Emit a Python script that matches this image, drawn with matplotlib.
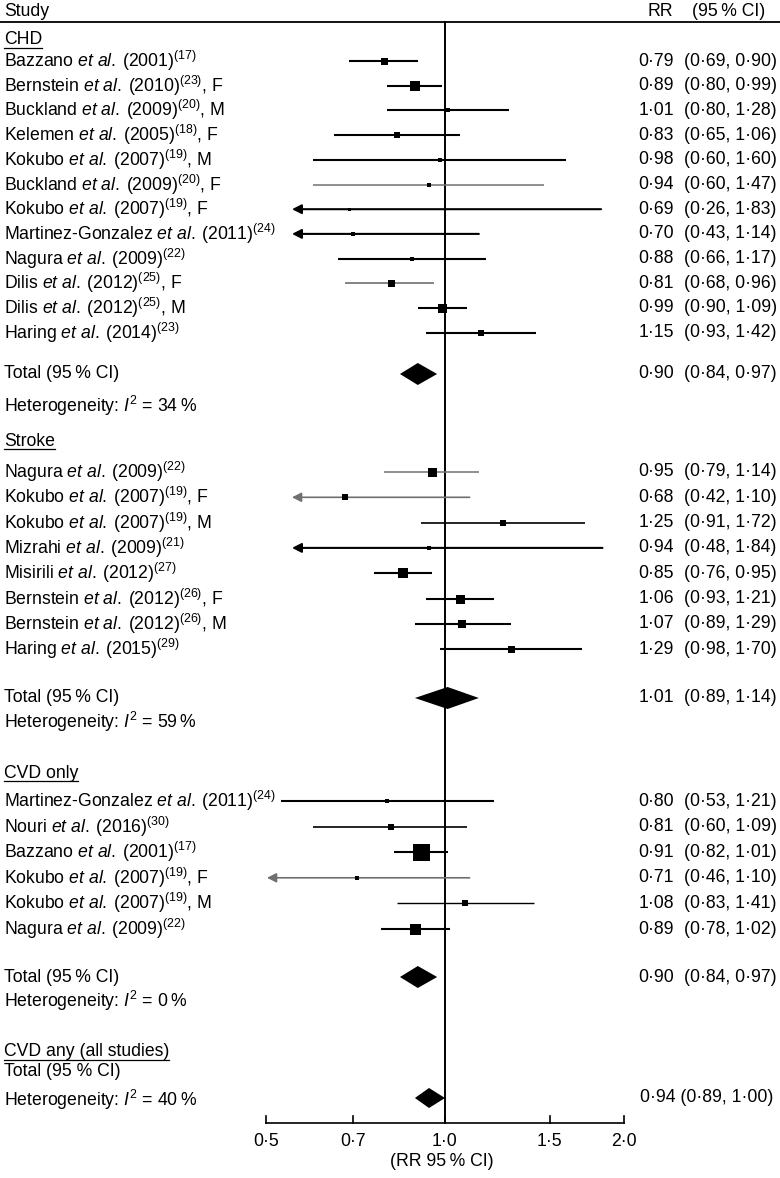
import numpy as np
import matplotlib
matplotlib.use("Agg")
import matplotlib.pyplot as plt
from matplotlib.transforms import blended_transform_factory

plt.rcParams['font.family'] = ['Liberation Sans', 'DejaVu Sans']
plt.rcParams['mathtext.fontset'] = 'custom'
plt.rcParams['mathtext.rm'] = 'Liberation Sans'
plt.rcParams['mathtext.it'] = 'Liberation Sans:italic'
plt.rcParams['mathtext.bf'] = 'Liberation Sans:bold'

# ---------------- data ----------------
chd_authors = ["Bazzano", "Bernstein", "Buckland", "Kelemen", "Kokubo", "Buckland",
               "Kokubo", "Martinez-Gonzalez", "Nagura", "Dilis", "Dilis", "Haring"]
chd_years = ["2001", "2010", "2009", "2005", "2007", "2009", "2007", "2011", "2009", "2012", "2012", "2014"]
chd_refs = ["17", "23", "20", "18", "19", "20", "19", "24", "22", "25", "25", "23"]
chd_sex = ["", "F", "M", "F", "M", "F", "F", "", "", "F", "M", ""]
chd_rr = [0.79, 0.89, 1.01, 0.83, 0.98, 0.94, 0.69, 0.70, 0.88, 0.81, 0.99, 1.15]
chd_lo = [0.69, 0.80, 0.80, 0.65, 0.60, 0.60, 0.26, 0.43, 0.66, 0.68, 0.90, 0.93]
chd_hi = [0.90, 0.99, 1.28, 1.06, 1.60, 1.47, 1.83, 1.14, 1.17, 0.96, 1.09, 1.42]
chd_w = [7, 10, 5, 6, 4, 5, 3, 4, 5, 7, 9, 6]
chd_total = (0.90, 0.84, 0.97)
chd_i2 = 34

stroke_authors = ["Nagura", "Kokubo", "Kokubo", "Mizrahi", "Misirili", "Bernstein", "Bernstein", "Haring"]
stroke_years = ["2009", "2007", "2007", "2009", "2012", "2012", "2012", "2015"]
stroke_refs = ["22", "19", "19", "21", "27", "26", "26", "29"]
stroke_sex = ["", "F", "M", "", "", "F", "M", ""]
stroke_rr = [0.95, 0.68, 1.25, 0.94, 0.85, 1.06, 1.07, 1.29]
stroke_lo = [0.79, 0.42, 0.91, 0.48, 0.76, 0.93, 0.89, 0.98]
stroke_hi = [1.14, 1.10, 1.72, 1.84, 0.95, 1.21, 1.29, 1.70]
stroke_w = [9, 6, 6, 4, 10, 9, 8, 7]
stroke_total = (1.01, 0.89, 1.14)
stroke_i2 = 59

cvd_authors = ["Martinez-Gonzalez", "Nouri", "Bazzano", "Kokubo", "Kokubo", "Nagura"]
cvd_years = ["2011", "2016", "2001", "2007", "2007", "2009"]
cvd_refs = ["24", "30", "17", "19", "19", "22"]
cvd_sex = ["", "", "", "F", "M", ""]
cvd_rr = [0.80, 0.81, 0.91, 0.71, 1.08, 0.89]
cvd_lo = [0.53, 0.60, 0.82, 0.46, 0.83, 0.78]
cvd_hi = [1.21, 1.09, 1.01, 1.10, 1.41, 1.02]
cvd_w = [5, 6, 17, 4, 6, 11]
cvd_total = (0.90, 0.84, 0.97)
cvd_i2 = 0

any_total = (0.94, 0.89, 1.00)
any_i2 = 40

tick_values = [0.5, 0.7, 1.0, 1.5, 2.0]

# ---------------- layout / style ----------------
W, H = 780, 1178
FS = 12.7
fig = plt.figure(figsize=(W / 100, H / 100), dpi=100)
ax = fig.add_axes([0, 0, 1, 1])
ax.set_xscale('log')
ppl = 179 / np.log(2.0)          # pixels per ln unit
x_ref = 445                       # pixel of RR = 1
ax.set_xlim(np.exp(-x_ref / ppl), np.exp((W - x_ref) / ppl))
ax.set_ylim(H, 0)
ax.axis('off')
tr = blended_transform_factory(ax.transAxes, ax.transData)


def fx(px):
    return px / W


def fmt(v):
    return f"{v:.2f}".replace(".", "\u00b7")


def label(author, year, ref, sex):
    s = author + r" $\mathit{et\ al.}$" + "\u2009(" + year + r")$^{\mathrm{(" + ref + r")}}$"
    if sex:
        s += ", " + sex
    return s


underline_items = []


def heading(text, y):
    t = ax.text(fx(4), y, text, transform=tr, fontsize=FS, va='center', ha='left')
    underline_items.append((t, y))


def study_rows(authors, years, refs, sex, rr, lo, hi, w, y0, step, clip, colors, lws):
    for i in range(len(rr)):
        y = y0 + i * step
        ax.text(fx(4), y, label(authors[i], years[i], refs[i], sex[i]), transform=tr,
                fontsize=FS, va='center', ha='left')
        c = colors.get(i, 'black')
        lw = lws.get(i, 1.5)
        if lo[i] < clip:
            ax.annotate('', xy=(clip, y), xytext=(hi[i], y),
                        arrowprops=dict(arrowstyle='-|>,head_length=0.55,head_width=0.28',
                                        lw=lw, color=c, shrinkA=0, shrinkB=0), zorder=3)
        else:
            ax.plot([lo[i], hi[i]], [y, y], color=c, lw=lw, solid_capstyle='butt', zorder=3)
        ax.plot([rr[i]], [y], marker='s', color='black', markersize=w[i] * 0.72,
                markeredgewidth=0, zorder=4)
        ax.text(fx(674), y, fmt(rr[i]), transform=tr, fontsize=FS, va='center', ha='right')
        ax.text(fx(684), y, f"({fmt(lo[i])}, {fmt(hi[i])})", transform=tr,
                fontsize=FS, va='center', ha='left')


def diamond(total, y, h):
    est, lo, hi = total
    ax.fill([lo, est, hi, est], [y, y - h, y, y + h], color='black', lw=0, zorder=4)


def total_row(total, y, i2, yh, label_text="Total (95\u2009% CI)", sep_cols=True, ydia=None, h=11):
    ax.text(fx(4), y, label_text, transform=tr, fontsize=FS, va='center', ha='left')
    yv = y if ydia is None else ydia
    diamond(total, yv, h)
    if sep_cols:
        ax.text(fx(674), yv, fmt(total[0]), transform=tr, fontsize=FS, va='center', ha='right')
        ax.text(fx(684), yv, f"({fmt(total[1])}, {fmt(total[2])})", transform=tr,
                fontsize=FS, va='center', ha='left')
    else:
        ax.text(fx(640), yv, f"{fmt(total[0])} ({fmt(total[1])}, {fmt(total[2])})",
                transform=tr, fontsize=FS, va='center', ha='left')
    ax.text(fx(4), yh, r"Heterogeneity: $\mathit{I}^{\mathrm{2}}$ = " + f"{i2}\u2009%",
            transform=tr, fontsize=FS, va='center', ha='left')


# header
ax.text(fx(4), 12, "Study", transform=tr, fontsize=FS, va='center', ha='left')
ax.text(fx(673), 12, "RR", transform=tr, fontsize=FS, va='center', ha='right')
ax.text(fx(692), 12, "(95\u2009% CI)", transform=tr, fontsize=FS, va='center', ha='left')
ax.plot([0, 1], [22, 22], transform=tr, color='black', lw=1.3)

# reference line
ax.plot([1.0, 1.0], [22, 1123], color='black', lw=1.4, zorder=2)

# CHD
heading("CHD", 40)
study_rows(chd_authors, chd_years, chd_refs, chd_sex, chd_rr, chd_lo, chd_hi, chd_w,
           61, 24.7, 0.553, {5: '#707070', 9: '#707070'}, {5: 1.1, 9: 1.2})
total_row(chd_total, 374, chd_i2, 406)

# Stroke
heading("Stroke", 441)
study_rows(stroke_authors, stroke_years, stroke_refs, stroke_sex, stroke_rr, stroke_lo,
           stroke_hi, stroke_w, 472, 25.3, 0.553, {0: '#707070', 1: '#707070'}, {0: 1.1, 1: 1.2, 2: 1.2})
total_row(stroke_total, 698, stroke_i2, 722)

# CVD only
heading("CVD only", 773)
study_rows(cvd_authors, cvd_years, cvd_refs, cvd_sex, cvd_rr, cvd_lo, cvd_hi, cvd_w,
           801, 25.6, 0.502, {3: '#707070'}, {1: 1.2, 3: 1.2, 4: 1.0})
total_row(cvd_total, 977, cvd_i2, 1001)

# CVD any
heading("CVD any (all studies)", 1052)
total_row(any_total, 1072, any_i2, 1100, label_text="Total (95 % CI)", sep_cols=False, ydia=1098, h=10)

# x axis
ax.plot([tick_values[0], tick_values[-1]], [1123, 1123], color='black', lw=1.2)
for tv in tick_values:
    ax.plot([tv, tv], [1123, 1116], color='black', lw=1.2)
    ax.text(tv, 1141, f"{tv:.1f}".replace(".", "\u00b7"), fontsize=FS, ha='center', va='center')
ax.text(fx(442), 1161, "(RR 95\u2009% CI)", transform=tr, fontsize=FS, ha='center', va='center')

# underlines for section headings
fig.canvas.draw()
renderer = fig.canvas.get_renderer()
for t, y in underline_items:
    bb = t.get_window_extent(renderer)
    yb = H - bb.y0 - 1
    ax.plot([bb.x0 / W, bb.x1 / W], [yb, yb], transform=tr, color='black', lw=0.9)

fig.savefig("out.png", dpi=100)
